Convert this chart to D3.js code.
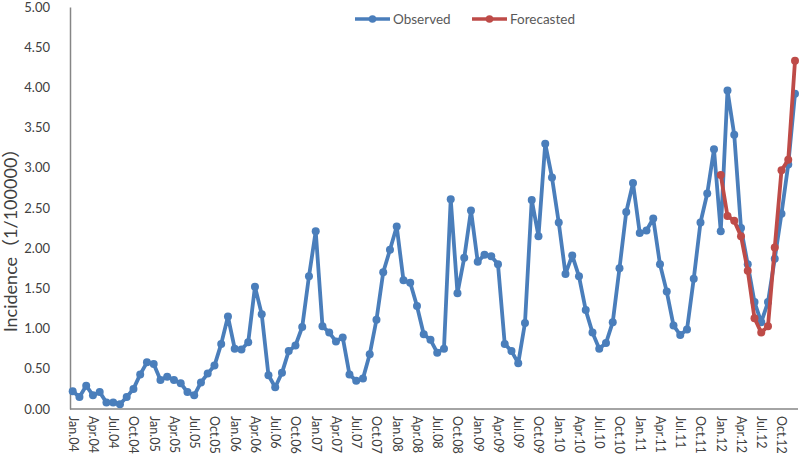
<!DOCTYPE html>
<html><head><meta charset="utf-8">
<script src="https://cdn.jsdelivr.net/npm/d3@7"></script>
<style>body{margin:0;background:#fff}svg{display:block}</style>
</head><body>
<script>
const monthNames = ["Jan","Feb","Mar","Apr","May","Jun","Jul","Aug","Sep","Oct","Nov","Dec"];
const years = ["04","05","06","07","08","09","10","11","12"];
const categories = years.flatMap(y => monthNames.map(m => m + "." + y));
const tickLabels = categories.filter((c, i) => i % 3 === 0);
const yTicks = [0,0.5,1,1.5,2,2.5,3,3.5,4,4.5,5];

const observed = [
 0.22,0.15,0.29,0.17,0.21,0.08,0.08,0.06,0.15,0.25,0.43,0.58,
 0.56,0.36,0.40,0.36,0.32,0.21,0.17,0.33,0.44,0.54,0.81,1.15,
 0.75,0.74,0.83,1.52,1.18,0.42,0.27,0.45,0.72,0.79,1.02,1.65,
 2.21,1.03,0.95,0.84,0.89,0.43,0.35,0.38,0.68,1.11,1.70,1.98,
 2.27,1.60,1.57,1.28,0.93,0.86,0.70,0.75,2.61,1.44,1.88,2.47,
 1.83,1.92,1.90,1.80,0.81,0.72,0.57,1.07,2.60,2.15,3.30,2.88,
 2.32,1.68,1.91,1.65,1.23,0.95,0.75,0.82,1.08,1.75,2.45,2.81,
 2.19,2.22,2.37,1.80,1.46,1.04,0.92,0.99,1.62,2.32,2.68,3.23,
 2.21,3.96,3.41,2.25,1.80,1.33,1.08,1.33,1.87,2.43,3.04,3.92
];
const forecastStart = "Jan.12";
const forecasted = [2.91,2.40,2.34,2.15,1.72,1.13,0.95,1.03,2.01,2.97,3.10,4.33];

const seriesNames = ["Observed","Forecasted"];
const colors = ["#4A7EBB","#BE4B48"];

const W = 800, H = 463;
const svg = d3.select("body").append("svg").attr("width", W).attr("height", H)
  .style("font-family", "Lato, 'Noto Sans', sans-serif");

const x = d3.scalePoint().domain(categories).range([72.7, 795]);
const y = d3.scaleLinear().domain([0,5]).range([409, 7]);

const obsData = observed.map((v,i) => ({c: categories[i], v}));
const fIdx = categories.indexOf(forecastStart);
const fData = forecasted.map((v,i) => ({c: categories[fIdx+i], v}));

// axes
const axisColor = "#868686";
const yAxis = svg.append("g").attr("transform", "translate(70,0)")
  .call(d3.axisLeft(y).tickValues(yTicks).tickFormat(d3.format(".2f")).tickSize(0).tickPadding(20));
yAxis.select(".domain").attr("stroke", axisColor).attr("stroke-width", 1.5);
yAxis.selectAll("text").attr("fill", "#404040").style("font-size", "13px").style("font-family", "Lato, sans-serif");

const xAxis = svg.append("g").attr("transform", "translate(0,409)")
  .call(d3.axisBottom(x).tickValues(tickLabels).tickSize(0).tickPadding(0));
xAxis.select(".domain").attr("d", "M70,0H798").attr("stroke", axisColor).attr("stroke-width", 1.5);
xAxis.selectAll("text")
  .attr("fill", "#404040").style("font-size", "12.5px").style("font-family", "Lato, sans-serif")
  .attr("text-anchor", "start").attr("dy", null).attr("y", 0)
  .attr("dominant-baseline", "central")
  .attr("transform", "translate(0,7) rotate(90)");

// y title
svg.append("text")
  .attr("transform", "translate(10,236) rotate(-90)")
  .attr("text-anchor", "middle").attr("dominant-baseline", "central")
  .attr("fill", "#404040").style("font-size", "18px")
  .style("font-family", "Lato, 'Noto Sans CJK SC', sans-serif")
  .text("Incidence（1/100000）");

const line = d3.line().x(d => x(d.c)).y(d => y(d.v));

function drawSeries(data, color) {
  const g = svg.append("g");
  g.append("path").datum(data).attr("d", line).attr("fill", "none")
    .attr("stroke", color).attr("stroke-width", 3.8).attr("stroke-linejoin", "round");
  g.selectAll("circle").data(data).join("circle")
    .attr("cx", d => x(d.c)).attr("cy", d => y(d.v)).attr("r", 4).attr("fill", color);
}
drawSeries(obsData, colors[0]);
drawSeries(fData, colors[1]);

// legend
const legendX = [355, 472];
seriesNames.forEach((n, i) => {
  const g = svg.append("g").attr("transform", `translate(${legendX[i]},19)`);
  g.append("line").attr("x1", 0).attr("x2", 35).attr("stroke", colors[i]).attr("stroke-width", 3.5);
  g.append("circle").attr("cx", 17.5).attr("r", 3.8).attr("fill", colors[i]);
  g.append("text").attr("x", 38).attr("dominant-baseline", "central")
    .attr("fill", "#595959").style("font-size", "13.5px").text(n);
});
</script>
</body></html>
